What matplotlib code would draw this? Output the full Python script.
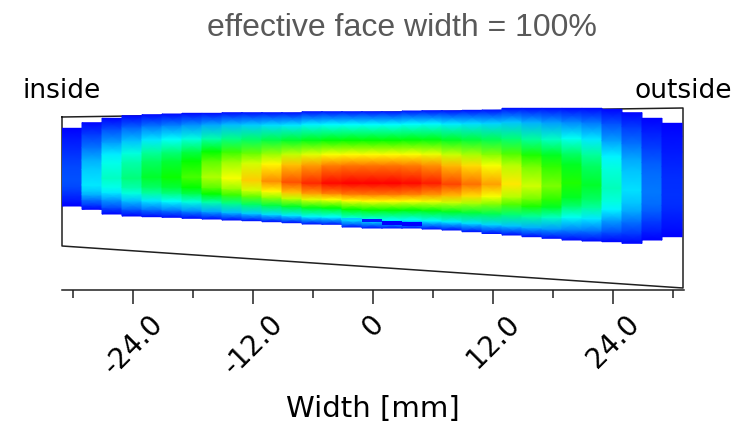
import numpy as np
import matplotlib

matplotlib.use("Agg")
import matplotlib.pyplot as plt
from matplotlib.colors import LinearSegmentedColormap, Normalize

# Contact strips across the face width [mm], 2 mm wide each
strip_x = np.arange(-30.1, 30.0, 2.0)
strip_w = 2.0

# Upper / lower limit of each strip and the height of its pressure maximum
strip_top = [16.17, 16.73, 17.17, 17.43, 17.53, 17.60, 17.67, 17.67, 17.73, 17.73,
             17.73, 17.73, 17.83, 17.83, 17.83, 17.83, 17.83, 17.90, 17.93, 17.93,
             17.97, 18.00, 18.17, 18.17, 18.17, 18.17, 18.17, 18.07, 17.73, 17.17,
             16.67]
strip_bottom = [8.40, 8.07, 7.60, 7.40, 7.33, 7.27, 7.17, 7.10, 7.00, 6.93,
                6.83, 6.73, 6.60, 6.57, 6.30, 6.20, 6.20, 6.20, 6.10, 6.00,
                5.83, 5.65, 5.50, 5.33, 5.17, 5.00, 4.90, 4.83, 4.67, 5.00,
                5.33]
strip_center = [11.0, 10.5, 11.2, 11.2, 11.3, 11.3, 11.3, 11.3, 11.2, 11.0,
                10.9, 10.8, 10.7, 10.7, 10.7, 10.7, 10.7, 10.7, 10.7, 10.6,
                10.6, 10.6, 10.6, 10.4, 10.4, 10.7, 10.5, 10.2, 10.0, 9.8,
                9.5]
# relative peak pressure per strip
strip_peak = [0.08, 0.23, 0.31, 0.38, 0.46, 0.51, 0.57, 0.67, 0.74, 0.80,
              0.86, 0.92, 0.96, 0.99, 1.00, 1.00, 1.00, 0.99, 0.97, 0.93,
              0.89, 0.84, 0.77, 0.70, 0.62, 0.53, 0.46, 0.32, 0.22, 0.12,
              0.05]

# pressure falloff from the maximum (0) to the strip edge (1)
profile_t = [0.0, 0.25, 0.40, 0.60, 0.82, 1.0]
profile_r = [1.0, 0.88, 0.75, 0.50, 0.25, 0.02]

# narrow low-pressure gaps near the lower edge of some strips
dip_strip = [14, 15, 16, 17]
dip_top = [7.25, 7.07, 6.90, 6.77]
dip_bottom = [7.05, 6.77, 6.50, 6.43]
dip_value = [0.20, 0.03, 0.0, 0.0]

# tooth flank outline
flank_x = [-31.1, 31.0, 31.0, -31.1, -31.1]
flank_y = [17.3, 18.2, 0.2, 4.4, 17.3]

xticks_major = [-24, -12, 0, 12, 24]
xtick_labels = ["-24.0", "-12.0", "0", "12.0", "24.0"]
xticks_minor = [-30, -18, -6, 6, 18, 30]


def main():
    cmap = LinearSegmentedColormap.from_list(
        "contact", ["#0000ff", "#00ffff", "#00ff00", "#ffff00", "#ff0000"]
    )
    norm = Normalize(0, 1)

    fig = plt.figure(figsize=(7.5, 4.33), dpi=100)
    ax = fig.add_axes([62 / 750, 1 - 290 / 433, 622 / 750, 183 / 433])

    ax.plot(flank_x, flank_y, color="#202020", linewidth=1.1, clip_on=False, zorder=1)

    t = np.array(profile_t)
    r = np.array(profile_r)
    for i, xc in enumerate(strip_x):
        top, bot, c, pk = strip_top[i], strip_bottom[i], strip_center[i], strip_peak[i]
        ys = np.concatenate([c - t[::-1] * (c - bot), c + t[1:] * (top - c)])
        vs = np.concatenate([r[::-1], r[1:]]) * pk
        X = np.column_stack([np.full_like(ys, xc - strip_w / 2), np.full_like(ys, xc + strip_w / 2)])
        Y = np.column_stack([ys, ys])
        C = np.column_stack([vs, vs])
        ax.pcolormesh(X, Y, C, cmap=cmap, norm=norm, shading="gouraud", zorder=2)

    for k, i in enumerate(dip_strip):
        ax.bar(strip_x[i], dip_top[k] - dip_bottom[k], bottom=dip_bottom[k], width=strip_w,
               color=cmap(norm(dip_value[k])), linewidth=0, zorder=3)

    ax.set_xlim(-31.1, 31.1)
    ax.set_ylim(0, 18.3)
    for side in ("left", "right", "top"):
        ax.spines[side].set_visible(False)
    ax.spines["bottom"].set_color("#202020")
    ax.spines["bottom"].set_linewidth(1.1)
    ax.set_yticks([])

    ax.set_xticks(xticks_major)
    ax.set_xticklabels(xtick_labels, rotation=45, fontsize=20, family="DejaVu Sans")
    ax.set_xticks(xticks_minor, minor=True)
    ax.tick_params(axis="x", which="major", length=10, width=1.1, color="#202020", pad=4)
    ax.tick_params(axis="x", which="minor", length=6, width=1.1, color="#202020")
    ax.set_xlabel("Width [mm]", fontsize=21, family="DejaVu Sans", labelpad=11)

    ax.text(-31.1, 19.2, "inside", ha="center", va="baseline", fontsize=19, family="DejaVu Sans")
    ax.text(31.0, 19.2, "outside", ha="center", va="baseline", fontsize=19, family="DejaVu Sans")

    fig.text(402 / 750, 1 - 28 / 433, "effective face width = 100%", ha="center", va="center",
             fontsize=23, color="#595959", family="Liberation Sans")

    fig.savefig("out.png", dpi=100, facecolor="white")


if __name__ == "__main__":
    main()
